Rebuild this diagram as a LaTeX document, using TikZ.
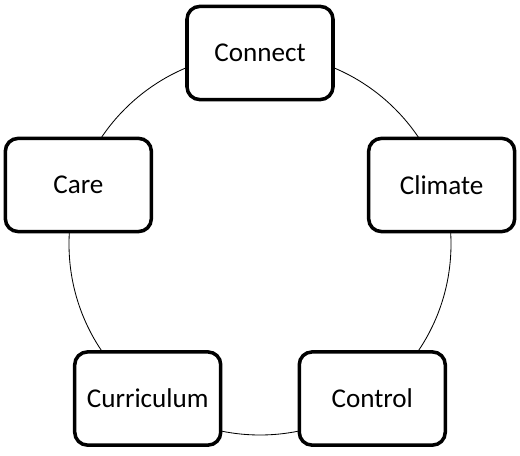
\documentclass[tikz,border=0pt]{standalone}
\usepackage{fontspec}
\setmainfont{Carlito}
\begin{document}
\begin{tikzpicture}[
		box/.style={draw, line width=2.5pt, rounded corners=0.32cm, fill=white,
			minimum width=3.65cm, minimum height=2.33cm,
			font=\fontsize{19.3}{23}\selectfont}]
				\def\r{4.775}
				\useasboundingbox (-6.5,-5.275) rectangle (6.5,6.1);

				% Draw circle
				\coordinate (O) at (0,0);
				\draw[line width=0.6pt] (O) circle (\r);

				% Boxes
				\node[box] (connect) at (90:\r) {Connect};
				\node[box] (climate) at (18:\r) {Climate};
				\node[box] (control) at (-54:\r) {Control};
				\node[box] (curriculum) at (234:\r) {Curriculum};
				\node[box] (care) at (162:\r) {Care};
			\end{tikzpicture}
\end{document}
